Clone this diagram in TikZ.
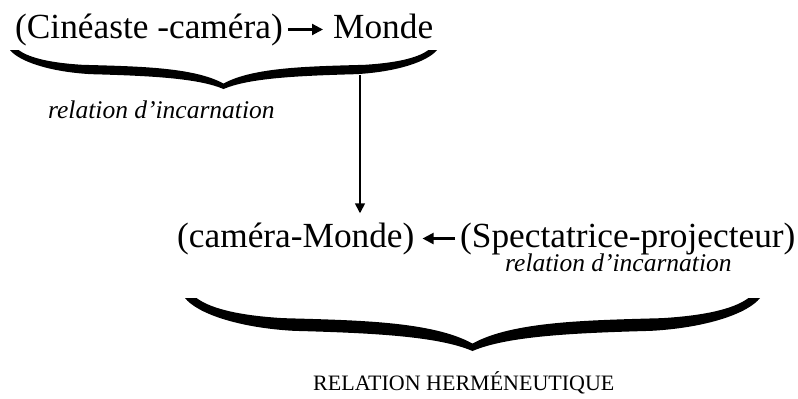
\documentclass[tikz,border=0pt]{standalone}
\usepackage{fontspec}
\setmainfont{Liberation Serif}
\usetikzlibrary{arrows.meta}

\tikzset{
  big/.style={inner sep=0pt, anchor=base west, font=\fontsize{35.3}{40}\selectfont},
  note/.style={inner sep=0pt, anchor=base west, font=\fontsize{25.5}{30}\selectfont\itshape},
  caps/.style={inner sep=0pt, anchor=base west, font=\fontsize{22}{26}\selectfont},
  arr/.style={line width=2.2pt, -{Triangle[length=11pt,width=11pt]}},
  vline/.style={line width=1.7pt, -{Triangle[length=10pt,width=10pt]}},
  % horizontal curly brace, half width 100, depth 50 (y grows downwards);
  % the outer edge reaches the ends, the inner edge starts a little inside
  curly/.pic={
    \fill (-96,0) .. controls (-92,8) and (-84,16) .. (-66,19)
      .. controls (-40,21) and (-14,22) .. (0,43)
      .. controls (14,22) and (40,21) .. (66,19)
      .. controls (84,16) and (92,8) .. (96,0)
      -- (100,0)
      .. controls (96,14) and (82,28) .. (62,31)
      .. controls (35,33) and (12,36) .. (0,50)
      .. controls (-12,36) and (-35,33) .. (-62,31)
      .. controls (-82,28) and (-96,14) .. (-100,0) -- cycle;
  }
}

\begin{document}
\begin{tikzpicture}[x=1pt, y=-1pt]
  \useasboundingbox (0,0) rectangle (798,399);

  % top row
  \node[big] (cc) at (15,38) {(Cinéaste -caméra)};
  \node[big] (mo) at (333,38) {Monde};
  \draw[arr, shorten <=5pt, shorten >=10pt] (cc.east) -- (cc.east -| mo.west);

  % top brace and its label
  \pic[xscale=2.135, yscale=0.78] at (223.5,50) {curly};
  \node[note] (ri1) at (48,118) {relation d’incarnation};

  % middle row
  \node[big] (cm) at (177,247) {(caméra-Monde)};
  \node[big] (sp) at (460,247) {(Spectatrice-projecteur)};
  \draw[arr, shorten <=5pt, shorten >=8pt] (sp.west) -- (sp.west -| cm.east);
  \node[note] (ri2) at (505,271) {relation d’incarnation};

  % link from the top brace down to the middle row
  \coordinate (tb) at (360,75);
  \draw[vline, shorten >=9pt] (tb) -- (tb |- cm.north);

  % bottom brace and its label
  \pic[xscale=2.875, yscale=1.06] at (472.5,298) {curly};
  \node[caps] (rh) at (313,390) {RELATION HERMÉNEUTIQUE};
\end{tikzpicture}
\end{document}
